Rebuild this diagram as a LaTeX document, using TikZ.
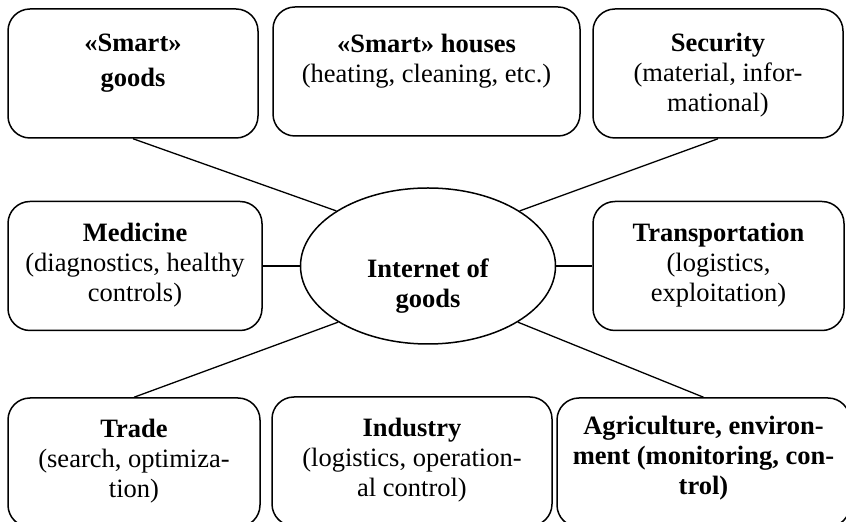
\documentclass[tikz,border=0pt]{standalone}
\usepackage{fontspec}
\setmainfont{Liberation Serif}
\usepackage{tikz}
\usetikzlibrary{positioning,shapes.geometric}
\tikzset{
    bloco/.style={
        rectangle,
        draw,
        line width=1.5pt,
        rounded corners=22pt,
        minimum height=129pt,
        inner sep=0pt
    },
    rotulo/.style={
        align=center,
        inner sep=0pt,
        font=\fontsize{26.5}{30}\selectfont
    },
    nucleo/.style={
        ellipse,
        draw,
        line width=1.5pt,
        minimum width=255pt,
        minimum height=156pt,
        inner sep=0pt
    },
    ligacao/.style={line width=1.3pt}
}

\begin{document}
\begin{tikzpicture}[x=1pt, y=1pt]
    \useasboundingbox (0,0) rectangle (846,522);

    % centro
    \node[nucleo] (iot) at (428,256) {};
    \node[rotulo] (iotT) at ([yshift=-20pt]iot.center)
    {\textbf{Internet of}\\\textbf{goods}};

    % linha de cima
    \node[bloco, minimum width=250pt] (goods) at (133,448.5) {};
    \node[bloco, minimum width=307pt] (houses) at (426.5,450.5) {};
    \node[bloco, minimum width=250pt] (security) at (718,448.5) {};

    % linha do meio
    \node[bloco, minimum width=254pt] (medicine) at (135,256) {};
    \node[bloco, minimum width=251pt] (transport) at (718.5,256) {};

    % linha de baixo
    \node[bloco, minimum width=252pt] (trade) at (134,59.5) {};
    \node[bloco, minimum width=280pt] (industry) at (412,60.5) {};
    \node[bloco, minimum width=293pt] (agri) at (703.5,59.5) {};

    % textos
    \node[rotulo, below=26pt of goods.north] (goodsT)
    {\textbf{«Smart»}\\[5pt]\textbf{goods}};
    \node[rotulo, below=28pt of houses.north] (housesT)
    {\textbf{«Smart» houses}\\(heating, cleaning, etc.)};
    \node[rotulo, below=25pt of security.north] (securityT)
    {\textbf{Security}\\(material, infor-\\mational)};
    \node[rotulo, below=22pt of medicine.north] (medicineT)
    {\textbf{Medicine}\\(diagnostics, healthy\\controls)};
    \node[rotulo, below=22pt of transport.north] (transportT)
    {\textbf{Transportation}\\(logistics,\\exploitation)};
    \node[rotulo, below=22pt of trade.north] (tradeT)
    {\textbf{Trade}\\(search, optimiza-\\tion)};
    \node[rotulo, below=22pt of industry.north] (industryT)
    {\textbf{Industry}\\(logistics, operation-\\al control)};
    \node[rotulo, below=19pt of agri.north] (agriT)
    {\textbf{Agriculture, environ-}\\\textbf{ment (monitoring, con-}\\\textbf{trol)}};

    % ligacoes
    \draw[ligacao] (goods.south) -- (iot.149);
    \draw[ligacao] (security.south) -- (iot.31);
    \draw[ligacao] (medicine) -- (iot);
    \draw[ligacao] (transport) -- (iot);
    \draw[ligacao] (trade.north) -- (iot.212);
    \draw[ligacao] (agri.north) -- (iot.328);

\end{tikzpicture}
\end{document}
